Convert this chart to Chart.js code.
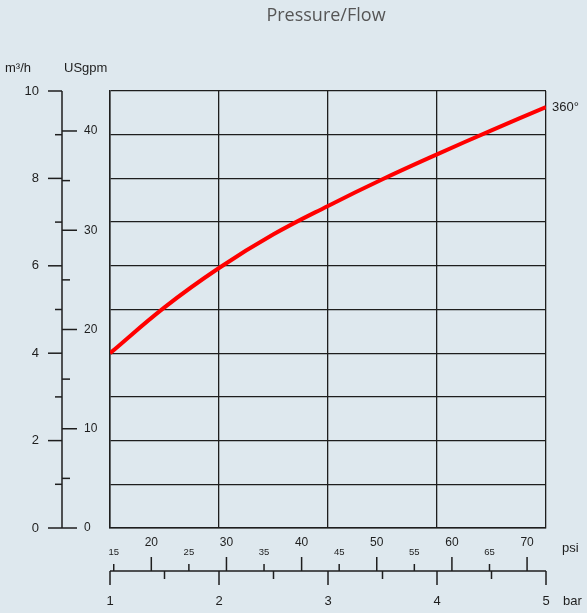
<!DOCTYPE html>
<html>
<head>
<meta charset="utf-8">
<script src="https://cdn.jsdelivr.net/npm/chart.js@4"></script>
<style>
  html, body { margin: 0; padding: 0; background: #dee8ee; }
  #wrap { width: 587px; height: 613px; }
</style>
</head>
<body>
<div id="wrap"><canvas id="flowChart" width="587" height="613"></canvas></div>
<script>
// values (bar -> m3/h)
const barValues = [1, 1.5, 2, 2.5, 3, 3.5, 4, 4.5, 5];
const flowValues = [4.0, 5.05, 5.95, 6.72, 7.37, 7.98, 8.55, 9.1, 9.63];
const seriesLabel = '360°';

const m3hMajorTicks = [0, 2, 4, 6, 8, 10];
const m3hMinorTicks = [1, 3, 5, 7, 9];
const usgpmMajorTicks = [0, 10, 20, 30, 40];
const usgpmMinorTicks = [5, 15, 25, 35];
const psiMajorTicks = [20, 30, 40, 50, 60, 70];
const psiMinorTicks = [15, 25, 35, 45, 55, 65];
const barMajorTicks = [1, 2, 3, 4, 5];
const barMinorTicks = [1.5, 2.5, 3.5, 4.5];

const PSI_PER_BAR = 14.5038;
const M3H_PER_USGPM = 0.2271247;

const LINE = '#1e1e1e';
const TEXT = '#1e1e1e';
const FONT = '"Liberation Sans", Arial, sans-serif';

// draws the outer axes (m3/h + USgpm on the left, psi + bar underneath)
const outerAxes = {
    id: 'outerAxes',
    afterDraw(chart) {
        const ctx = chart.ctx;
        const y = chart.scales.y;
        const x = chart.scales.x;
        const gpm = chart.scales.usgpm;
        const psi = chart.scales.psi;
        const axisX = 62;
        const axisY = 571;

        ctx.save();
        ctx.strokeStyle = LINE;
        ctx.fillStyle = TEXT;
        ctx.lineWidth = 1.5;

        // title
        ctx.font = '18px "Open Sans", Lato, sans-serif';
        ctx.fillStyle = '#555';
        ctx.textAlign = 'center';
        ctx.textBaseline = 'middle';
        ctx.fillText('Pressure/Flow', 326, 16);
        ctx.fillStyle = TEXT;

        // left vertical axis
        ctx.beginPath();
        ctx.moveTo(axisX, y.getPixelForValue(10));
        ctx.lineTo(axisX, y.getPixelForValue(0));
        ctx.stroke();

        ctx.font = '13px ' + FONT;
        ctx.textAlign = 'right';
        m3hMajorTicks.forEach(v => {
            const py = y.getPixelForValue(v);
            ctx.beginPath();
            ctx.moveTo(48, py);
            ctx.lineTo(axisX, py);
            ctx.stroke();
            ctx.fillText(String(v), 39, py);
        });
        m3hMinorTicks.forEach(v => {
            const py = y.getPixelForValue(v);
            ctx.beginPath();
            ctx.moveTo(55, py);
            ctx.lineTo(axisX, py);
            ctx.stroke();
        });

        ctx.font = '12px ' + FONT;
        ctx.textAlign = 'left';
        usgpmMajorTicks.forEach(v => {
            const py = gpm.getPixelForValue(v);
            ctx.beginPath();
            ctx.moveTo(axisX, py);
            ctx.lineTo(77, py);
            ctx.stroke();
            ctx.fillText(String(v), 84, py);
        });
        usgpmMinorTicks.forEach(v => {
            const py = gpm.getPixelForValue(v);
            ctx.beginPath();
            ctx.moveTo(axisX, py);
            ctx.lineTo(70, py);
            ctx.stroke();
        });

        ctx.font = '13px ' + FONT;
        ctx.textAlign = 'left';
        ctx.fillText('m³/h', 5, 68);
        ctx.fillText('USgpm', 64, 68);

        // bottom horizontal axis
        ctx.beginPath();
        ctx.moveTo(x.getPixelForValue(1), axisY);
        ctx.lineTo(x.getPixelForValue(5), axisY);
        ctx.stroke();

        ctx.textAlign = 'center';
        barMajorTicks.forEach(v => {
            const px = x.getPixelForValue(v);
            ctx.beginPath();
            ctx.moveTo(px, axisY);
            ctx.lineTo(px, 585);
            ctx.stroke();
            ctx.fillText(String(v), px, 601);
        });
        barMinorTicks.forEach(v => {
            const px = x.getPixelForValue(v);
            ctx.beginPath();
            ctx.moveTo(px, axisY);
            ctx.lineTo(px, 579);
            ctx.stroke();
        });

        ctx.font = '12px ' + FONT;
        psiMajorTicks.forEach(v => {
            const px = psi.getPixelForValue(v);
            ctx.beginPath();
            ctx.moveTo(px, axisY);
            ctx.lineTo(px, 557);
            ctx.stroke();
            ctx.fillText(String(v), px, 543);
        });
        ctx.font = '9.5px ' + FONT;
        psiMinorTicks.forEach(v => {
            const px = psi.getPixelForValue(v);
            ctx.beginPath();
            ctx.moveTo(px, axisY);
            ctx.lineTo(px, 564);
            ctx.stroke();
            ctx.fillText(String(v), px, 552);
        });

        ctx.font = '13px ' + FONT;
        ctx.textAlign = 'left';
        ctx.fillText('psi', 562, 548);
        ctx.fillText('bar', 563, 601);

        // curve label at the end of the line
        const pts = chart.getDatasetMeta(0).data;
        const last = pts[pts.length - 1];
        ctx.fillText(seriesLabel, last.x + 6, last.y);

        ctx.restore();
    }
};

new Chart(document.getElementById('flowChart'), {
    type: 'line',
    data: {
        datasets: [{
            label: seriesLabel,
            data: barValues.map((b, i) => ({ x: b, y: flowValues[i] })),
            borderColor: '#ff0000',
            borderWidth: 4,
            pointRadius: 0,
            tension: 0.4,
            fill: false
        }]
    },
    options: {
        responsive: false,
        animation: false,
        devicePixelRatio: 1,
        layout: { padding: { left: 110, right: 41, top: 91, bottom: 85 } },
        plugins: {
            legend: { display: false },
            tooltip: { enabled: false },
            title: { display: false }
        },
        scales: {
            x: {
                type: 'linear',
                min: 1,
                max: 5,
                ticks: { display: false, stepSize: 1 },
                grid: { color: LINE, lineWidth: 1.3, drawTicks: false },
                border: { display: true, color: LINE, width: 1.5 }
            },
            y: {
                min: 0,
                max: 10,
                ticks: { display: false, stepSize: 1 },
                grid: { color: LINE, lineWidth: 1.3, drawTicks: false },
                border: { display: true, color: LINE, width: 1.5 }
            },
            psi: {
                type: 'linear',
                position: 'bottom',
                display: false,
                min: 1 * PSI_PER_BAR,
                max: 5 * PSI_PER_BAR
            },
            usgpm: {
                type: 'linear',
                position: 'left',
                display: false,
                min: 0,
                max: 10 / M3H_PER_USGPM
            }
        }
    },
    plugins: [outerAxes]
});
</script>
</body>
</html>
